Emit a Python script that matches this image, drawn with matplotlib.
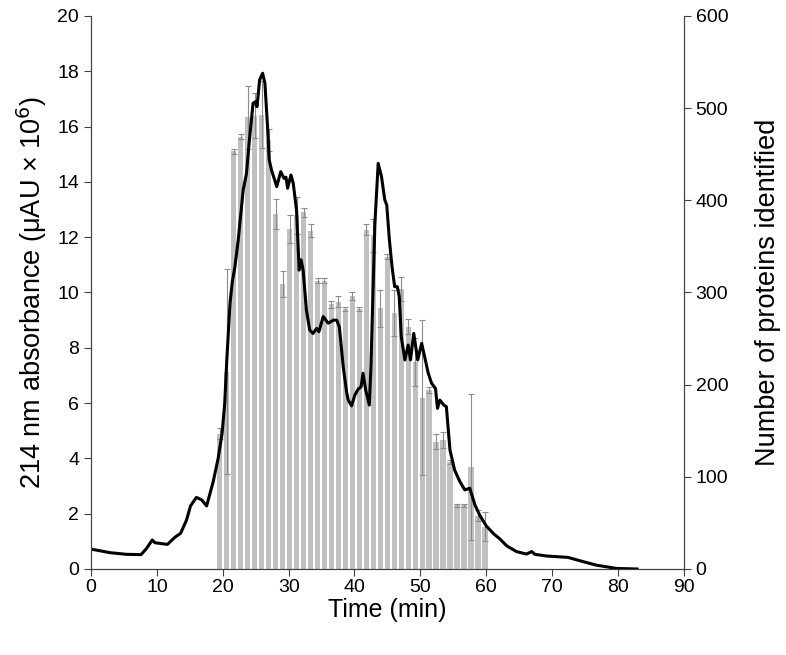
import numpy as np
import matplotlib
matplotlib.use("Agg")
import matplotlib.pyplot as plt

plt.rcParams['font.family'] = ['Liberation Sans', 'DejaVu Sans']

# absorbance trace (min, uAU x 10^6)
time = [0, 2.9, 5.4, 7.6, 8.45, 9.3, 9.7, 11.6, 12.75, 13.6, 14.5, 15.1, 16.0, 16.8,
        17.55, 18.55, 19.3, 19.9, 20.3, 20.6, 21.1, 21.45, 21.85, 22.35, 23.1, 23.6,
        24.0, 24.6, 24.95, 25.2, 25.6, 26.05, 26.4, 26.8, 27.05, 27.4, 28.2, 28.8,
        29.3, 29.6, 29.85, 30.35, 30.7, 31.2, 31.6, 31.9, 32.2, 32.7, 33.2, 33.7,
        34.25, 34.6, 35.25, 36.0, 36.8, 37.3, 37.7, 38.3, 38.8, 39.05, 39.55, 40.05,
        40.55, 41.0, 41.3, 41.7, 42.25, 42.5, 42.75, 43.1, 43.6, 44.1, 44.6, 44.9,
        45.3, 45.7, 46.1, 46.5, 46.8, 47.1, 47.65, 48.15, 48.5, 49.0, 49.6, 50.2,
        50.7, 51.2, 51.7, 52.3, 52.6, 52.95, 53.55, 53.95, 54.5, 55.2, 56.0, 56.75,
        57.5, 58.3, 59.0, 60.0, 61.05, 62.1, 63.1, 64.6, 66.1, 66.9, 67.4, 69.15,
        72.4, 74.2, 76.7, 79.8, 82.9]
absorb = [0.72, 0.59, 0.53, 0.52, 0.75, 1.05, 0.95, 0.89, 1.15, 1.29, 1.77, 2.28, 2.59, 2.5,
          2.28, 3.16, 4.0, 4.9, 6.0, 7.5, 9.6, 10.39, 10.93, 11.9, 13.7, 14.3,
          15.4, 16.84, 16.9, 16.72, 17.69, 17.93, 17.57, 16.0, 14.8, 14.43, 13.83, 14.37,
          14.13, 14.17, 13.77, 14.25, 13.95, 12.98, 10.81, 11.18, 10.81, 9.37, 8.64, 8.52,
          8.7, 8.58, 9.13, 8.89, 9.0, 9.0, 8.76, 7.3, 6.4, 6.11, 5.9, 6.29,
          6.5, 6.59, 7.08, 6.47, 5.93, 7.32, 9.49, 12.5, 14.67, 14.19, 13.35, 13.16,
          11.9, 10.93, 10.21, 10.21, 9.85, 8.4, 7.56, 8.1, 7.56, 8.52, 7.56, 8.16,
          7.62, 7.08, 6.72, 6.53, 5.81, 6.11, 5.93, 5.87, 4.3, 3.58, 3.16, 2.86,
          2.92, 2.31, 1.95, 1.56, 1.29, 1.08, 0.84, 0.63, 0.54, 0.63, 0.53, 0.47,
          0.42, 0.30, 0.14, 0.02, 0.0]

# proteins identified per fraction
proteins = [147, 214, 453, 469, 490, 492, 493, 465, 385, 309, 369, 384, 387, 367,
            313, 313, 287, 290, 282, 296, 282, 368, 362, 283, 339, 278, 304, 263,
            225, 186, 194, 138, 140, 116, 69, 69, 111, 58, 46]
errors = [6, 111, 3, 3, 34, 24, 36, 12, 16, 14, 15, 20, 5, 7,
          3, 3, 4, 6, 2, 4, 2, 6, 18, 20, 3, 25, 13, 8,
          26, 84, 3, 8, 9, 2, 2, 2, 79, 6, 16]

frac_time = 19.56 + 1.059 * np.arange(len(proteins))

fig, ax = plt.subplots(figsize=(7.86, 6.55), dpi=100)
fig.subplots_adjust(left=0.1158, right=0.870, bottom=0.1313, top=0.9756)
ax2 = ax.twinx()

ax2.bar(frac_time, proteins, width=0.8, color='#c0c0c0', zorder=1)
ax2.errorbar(frac_time, proteins, yerr=errors, fmt='none', ecolor='#8c8c8c',
             elinewidth=0.8, capsize=2.2, capthick=0.8, zorder=2)
ax2.set_ylim(0, 600)
ax2.set_yticks(range(0, 601, 100))
ax2.set_ylabel('Number of proteins identified', fontsize=19.5, labelpad=19)

ax.plot(time, absorb, color='black', lw=2.2)
ax.set_zorder(ax2.get_zorder() + 1)
ax.patch.set_visible(False)
ax.set_xlim(0, 90)
ax.set_ylim(0, 20)
ax.set_xticks(range(0, 91, 10))
ax.set_yticks(range(0, 21, 2))
ax.set_xlabel('Time (min)', fontsize=18, labelpad=2)
ax.set_ylabel('214 nm absorbance (μAU × 10$^6$)', fontsize=19.5, labelpad=6)

for a in (ax, ax2):
    a.spines['top'].set_visible(False)
    a.tick_params(direction='out', length=5, labelsize=14, color='#404040')
    for s in a.spines.values():
        s.set_color('#404040')
ax.tick_params(axis='x', pad=2)

plt.savefig('out.png')
